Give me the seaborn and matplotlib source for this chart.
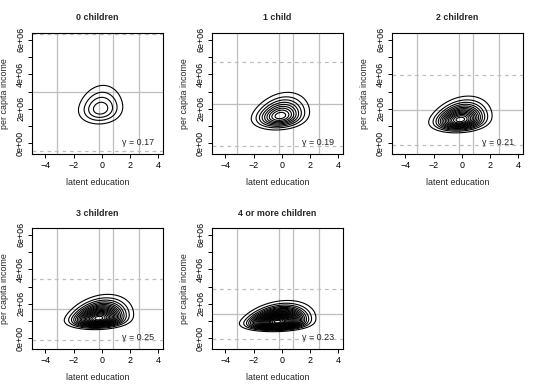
import math
import numpy as np
import matplotlib
matplotlib.use("Agg")
import matplotlib.pyplot as plt
import seaborn as sns

# panel data
titles = ["0 children", "1 child", "2 children", "3 children", "4 or more children"]
gammas = [0.17, 0.19, 0.21, 0.25, 0.23]
grid_x = [-3.21, -0.18, 0.80, 2.64]
mid_y = [3.0e6, 2.27e6, 1.94e6, 1.68e6, 1.41e6]
upper_y = [6.35e6, 4.69e6, 3.95e6, 3.43e6, 2.85e6]
lower_y = [-0.45e6, -0.14e6, -0.08e6, -0.12e6, -0.06e6]

# skew-normal contour parameters per panel (location, scale in data units)
loc_x = [-0.15, -0.25, -0.25, -0.35, -0.45]
scale_x = [0.90, 1.00, 1.00, 1.05, 1.10]
loc_y = [1.51e6, 1.20e6, 1.02e6, 0.85e6, 0.70e6]
scale_y = [0.97e6, 0.78e6, 0.71e6, 0.68e6, 0.57e6]
rho = [0.15, 0.30, 0.30, 0.30, 0.30]
skew_y = [2.3, 2.4, 2.6, 3.2, 3.2]
n_levels = [4, 9, 14, 18, 25]

sns.set_style("white")
plt.rcParams["font.family"] = ["Liberation Sans", "DejaVu Sans"]
plt.rcParams["font.size"] = 6.4

erf = np.vectorize(math.erf)

fig = plt.figure(figsize=(5.4, 3.9), dpi=100)
W, H = 540, 390
boxes = [(32, 33), (212, 33), (392, 33), (32, 228), (212, 228)]

gx = np.linspace(-4.95, 4.35, 240)
gy = np.linspace(-0.62e6, 6.39e6, 240)
X, Y = np.meshgrid(gx, gy)

for i, (px, py) in enumerate(boxes):
    ax = fig.add_axes([px / W, 1 - (py + 121) / H, 131 / W, 121 / H])
    for v in grid_x:
        ax.axvline(v, color="#BEBEBE", lw=0.9, zorder=1)
    ax.axhline(mid_y[i], color="#BEBEBE", lw=0.9, zorder=1)
    for h in (upper_y[i], lower_y[i]):
        ax.axhline(h, color="#BEBEBE", lw=0.9, ls=(0, (3, 3)), zorder=1)

    u = (X - loc_x[i]) / scale_x[i]
    v = (Y - loc_y[i]) / scale_y[i]
    r = rho[i]
    q = (u ** 2 - 2 * r * u * v + v ** 2) / (1 - r ** 2)
    dens = np.exp(-0.5 * q) * (1 + erf(skew_y[i] * v / math.sqrt(2)))
    step = dens.max() / (n_levels[i] + 0.7)
    levels = step * np.arange(1, n_levels[i] + 1)
    ax.contour(X, Y, dens, levels=levels, colors="black", linewidths=0.8, zorder=2)

    ax.text(2.55, 0.05e6, "\u03b3 = %.2f" % gammas[i], ha="center", va="center",
            fontsize=6.4, zorder=3)

    ax.set_xlim(-4.95, 4.35)
    ax.set_ylim(-0.62e6, 6.39e6)
    ax.set_xticks([-4, -2, 0, 2, 4])
    ax.set_xticklabels(["\u22124", "\u22122", "0", "2", "4"])
    ax.set_yticks([0, 1e6, 2e6, 3e6, 4e6, 5e6, 6e6])
    ax.set_yticklabels(["0e+00", "", "2e+06", "", "4e+06", "", "6e+06"],
                       rotation=90, va="center")
    ax.tick_params(direction="out", length=3, width=0.7, pad=2, colors="black",
                   labelsize=6.4, bottom=True, left=True)
    for s in ax.spines.values():
        s.set_color("black")
        s.set_linewidth(0.8)
    ax.set_title(titles[i], fontweight="bold", fontsize=6.4, pad=9)
    ax.set_xlabel("latent education", fontsize=6.4, labelpad=6)
    ax.set_ylabel("per capita income", fontsize=6.4, labelpad=5)

fig.savefig("out.png", dpi=100)
